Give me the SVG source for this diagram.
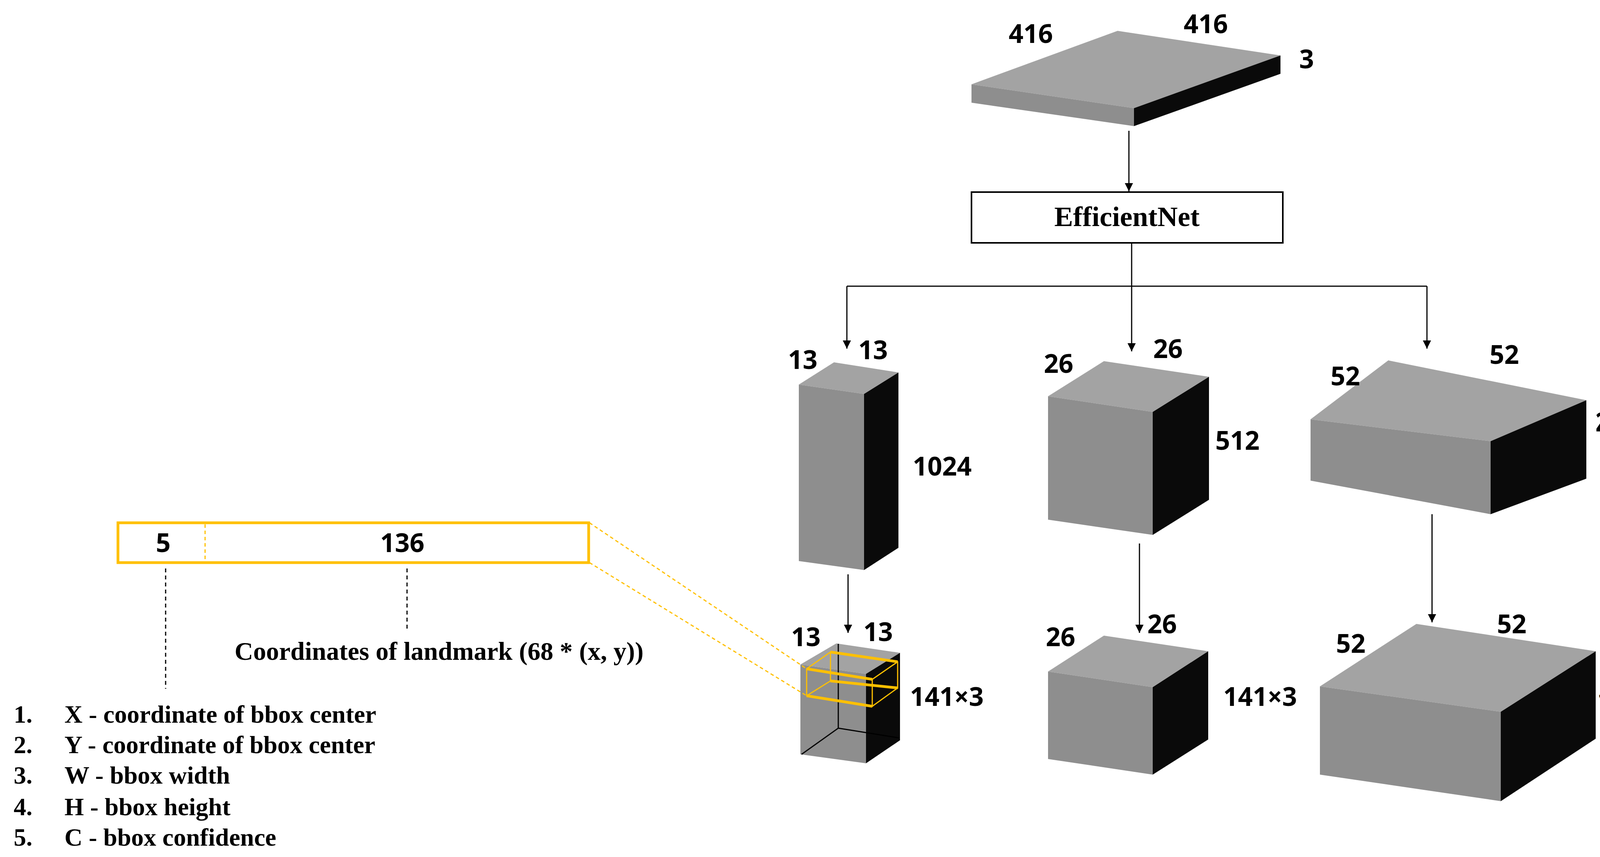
<svg xmlns="http://www.w3.org/2000/svg" width="4319" height="2195" viewBox="0 0 4319 2195">
<defs>
<style>
.top{fill:#a3a3a3}.front{fill:#8e8e8e}.side{fill:#0a0a0a}
.num{font-family:"Noto Sans","Liberation Sans",sans-serif;font-weight:bold;font-size:66px;fill:#000;text-anchor:middle}
.ser{font-family:"Liberation Serif",serif;font-weight:bold;fill:#000}
.ln{stroke:#000;stroke-width:3;fill:none}
.dash{stroke:#000;stroke-width:3;stroke-dasharray:10 8;fill:none}
.ydash{stroke:#FFC000;stroke-width:3;stroke-dasharray:9 7;fill:none}
.yl{stroke:#FFC000;fill:none}
</style>
<marker id="ah" viewBox="0 0 10 10" refX="10" refY="5" markerWidth="7" markerHeight="9" markerUnits="strokeWidth" orient="auto"><path d="M0,0 L10,5 L0,10 z" fill="#000"/></marker>
</defs>
<rect width="4319" height="2195" fill="#fff"/>

<g id="input">
<polygon class="top" points="2487,216 2861,79 3278,142 2903,277"/>
<polygon class="front" points="2487,216 2903,277 2903,323 2487,263"/>
<polygon class="side" points="2903,277 3278,142 3278,189 2903,323"/>
<text class="num" x="2639" y="110">416</text>
<text class="num" x="3087" y="85">416</text>
<text class="num" x="3345" y="175">3</text>
</g>

<g id="efficientnet">
<rect x="2487" y="492" width="797" height="130" fill="#fff" stroke="#000" stroke-width="4"/>
<text class="ser" x="2885" y="579" font-size="72" text-anchor="middle">EfficientNet</text>
</g>

<g id="c1u">
<polygon class="top" points="2045,985 2135,928 2300,954 2212,1009"/>
<polygon class="front" points="2045,985 2212,1009 2212,1460 2045,1437"/>
<polygon class="side" points="2212,1009 2300,954 2300,1403 2212,1460"/>
<text class="num" x="2055" y="945">13</text>
<text class="num" x="2235" y="920">13</text>
<text class="num" x="2412" y="1218">1024</text>
</g>
<g id="c2u">
<polygon class="top" points="2683,1015 2826,925 3095,965 2951,1055"/>
<polygon class="front" points="2683,1015 2951,1055 2951,1370 2683,1331"/>
<polygon class="side" points="2951,1055 3095,965 3095,1280 2951,1370"/>
<text class="num" x="2710" y="955">26</text>
<text class="num" x="2990" y="917">26</text>
<text class="num" x="3168" y="1152">512</text>
</g>
<g id="c3u">
<polygon class="top" points="3355,1074 3554,923 4061,1025 3816,1130"/>
<polygon class="front" points="3355,1074 3816,1130 3816,1317 3355,1231"/>
<polygon class="side" points="3816,1130 4061,1025 4061,1226 3816,1317"/>
<text class="num" x="3444" y="987">52</text>
<text class="num" x="3851" y="932">52</text>
<text class="num" x="4085" y="1105" style="text-anchor:start" textLength="80" lengthAdjust="spacingAndGlyphs">256</text>
</g>

<g id="c1l">
<polygon class="top" points="2049,1702 2141,1648 2304,1672 2217,1726"/>
<polygon class="front" points="2049,1702 2217,1726 2217,1955 2049,1932"/>
<polygon class="side" points="2217,1726 2304,1672 2304,1896 2217,1955"/>
<path class="ln" d="M2146,1649 V1865 L2052,1932 M2146,1865 L2302,1890"/>
<g class="yl">
<polygon points="2065,1713 2233,1740 2233,1809 2065,1782" stroke-width="3"/>
<polygon points="2126,1670 2298,1695 2298,1762 2126,1744" stroke-width="3"/>
<path d="M2065,1713 L2126,1670 M2233,1740 L2298,1695 M2233,1809 L2298,1762 M2065,1782 L2126,1744" stroke-width="3"/>
<path d="M2126,1670 L2298,1695 M2065,1713 L2233,1740 M2126,1744 L2298,1762 M2065,1782 L2233,1809" stroke-width="7"/>
</g>
<text class="num" x="2063" y="1655">13</text>
<text class="num" x="2248" y="1642">13</text>
<text class="num" x="2424" y="1808">141×3</text>
</g>
<g id="c2l">
<polygon class="top" points="2683,1720 2826,1628 3093,1668 2951,1760"/>
<polygon class="front" points="2683,1720 2951,1760 2951,1984 2683,1944"/>
<polygon class="side" points="2951,1760 3093,1668 3093,1894 2951,1984"/>
<text class="num" x="2715" y="1655">26</text>
<text class="num" x="2975" y="1622">26</text>
<text class="num" x="3226" y="1808">141×3</text>
</g>
<g id="c3l">
<polygon class="top" points="3379,1758 3626,1598 4085,1668 3842,1823"/>
<polygon class="front" points="3379,1758 3842,1823 3842,2052 3379,1984"/>
<polygon class="side" points="3842,1823 4085,1668 4085,1892 3842,2052"/>
<text class="num" x="3458" y="1672">52</text>
<text class="num" x="3870" y="1622">52</text>
<text class="num" x="4092" y="1818" style="text-anchor:start" textLength="86" lengthAdjust="spacingAndGlyphs">141×3</text>
</g>

<g id="vector">
<rect x="302" y="1339" width="1205" height="102" fill="#fff" stroke="#FFC000" stroke-width="7"/>
<line x1="525" y1="1343" x2="525" y2="1437" class="ydash"/>
<text class="num" x="418" y="1414">5</text>
<text class="num" x="1030" y="1414">136</text>
</g>
<g id="legend">
<text class="ser" x="1124" y="1690" font-size="66" text-anchor="middle">Coordinates of landmark (68 * (x, y))</text>
<g class="ser" font-size="64">
<text x="35" y="1851">1.</text><text x="165" y="1851">X - coordinate of bbox center</text>
<text x="35" y="1929">2.</text><text x="165" y="1929">Y - coordinate of bbox center</text>
<text x="35" y="2007">3.</text><text x="165" y="2007">W - bbox width</text>
<text x="35" y="2088">4.</text><text x="165" y="2088">H - bbox height</text>
<text x="35" y="2166">5.</text><text x="165" y="2166">C - bbox confidence</text>
</g>
</g>

<g id="connectors">
<line class="ln" x1="2890" y1="335" x2="2890" y2="490" marker-end="url(#ah)"/>
<path class="ln" d="M2897,622 V733 M2168,733 H3653"/>
<line class="ln" x1="2168" y1="733" x2="2168" y2="893" marker-end="url(#ah)"/>
<line class="ln" x1="2897" y1="733" x2="2897" y2="900" marker-end="url(#ah)"/>
<line class="ln" x1="3653" y1="733" x2="3653" y2="893" marker-end="url(#ah)"/>
<line class="ln" x1="2171" y1="1471" x2="2171" y2="1621" marker-end="url(#ah)"/>
<line class="ln" x1="2917" y1="1392" x2="2917" y2="1621" marker-end="url(#ah)"/>
<line class="ln" x1="3666" y1="1317" x2="3666" y2="1594" marker-end="url(#ah)"/>
<line class="dash" x1="424" y1="1456" x2="424" y2="1764"/>
<line class="dash" x1="1042" y1="1456" x2="1042" y2="1614"/>
<line class="ydash" x1="1509" y1="1339" x2="2065" y2="1713"/>
<line class="ydash" x1="1509" y1="1441" x2="2065" y2="1782"/>
</g>
</svg>
